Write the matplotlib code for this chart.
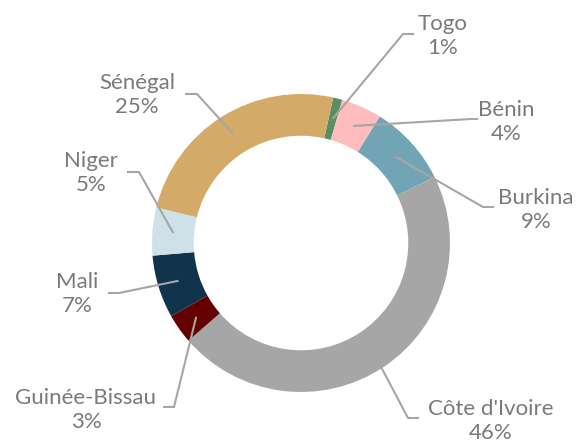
import numpy as np
import matplotlib
matplotlib.use("Agg")
import matplotlib.pyplot as plt

# ---- data ----
countries = ["Togo", "Bénin", "Burkina", "Côte d'Ivoire", "Guinée-Bissau", "Mali", "Niger", "Sénégal"]
values = [1.0, 4.4, 8.8, 45.9, 3.2, 6.8, 5.2, 24.6]
colors = ["#5b8f63", "#ffbcbe", "#71a5b6", "#a6a6a6", "#650000", "#0f344c", "#cfe1e8", "#d4aa68"]

# ---- layout (pixel space of a 580x440 image) ----
W, H = 580, 440
CX, CY, R = 301, 243, 149
# elbow point, end of horizontal segment, label center (pixels)
label_layout = {
    "Togo":          ((403, 34),  (414, 34),  (443, 36)),
    "Bénin":         ((471, 119), (478, 119), (506, 122)),
    "Burkina":       ((483, 207), (494, 207), (536, 210)),
    "Côte d'Ivoire": ((408, 418), (419, 418), (491, 421)),
    "Guinée-Bissau": ((174, 407), (163, 407), (86, 410)),
    "Mali":          ((119, 293), (108, 293), (77, 294)),
    "Niger":         ((139, 172), (127, 172), (91, 173)),
    "Sénégal":       ((197, 94),  (185, 94),  (137, 95)),
}

def px(p):
    return ((p[0] - CX) / R, (CY - p[1]) / R)

fig = plt.figure(figsize=(5.8, 4.4), dpi=100)
ax = fig.add_axes([0, 0, 1, 1])
ax.axis("off")

wedges, _ = ax.pie(values, colors=colors, startangle=90 - 12.5, counterclock=False,
                   radius=1.0, wedgeprops=dict(width=0.28, edgecolor="none"),
                   center=(0, 0), frame=False)
ax.set_xlim(-CX / R, (W - CX) / R)
ax.set_ylim((CY - H) / R, CY / R)
ax.set_aspect("equal")

total = sum(values)
textcolor = "#7a7a7a"
linecolor = "#a6a6a6"
for w, name, v in zip(wedges, countries, values):
    ang = np.deg2rad((w.theta1 + w.theta2) / 2)
    r0 = 0.86
    start = (r0 * np.cos(ang), r0 * np.sin(ang))
    elbow, end, lab = label_layout[name]
    e = px(elbow); f = px(end); t = px(lab)
    ax.plot([start[0], e[0], f[0]], [start[1], e[1], f[1]], color=linecolor, lw=1.5,
            solid_capstyle="butt", zorder=5)
    ax.text(t[0], t[1], f"{name}\n{round(v / total * 100):.0f}%", ha="center", va="center",
            fontsize=16, color=textcolor, family=["Lato", "DejaVu Sans"], linespacing=1.3)

fig.savefig("out.png", dpi=100)
